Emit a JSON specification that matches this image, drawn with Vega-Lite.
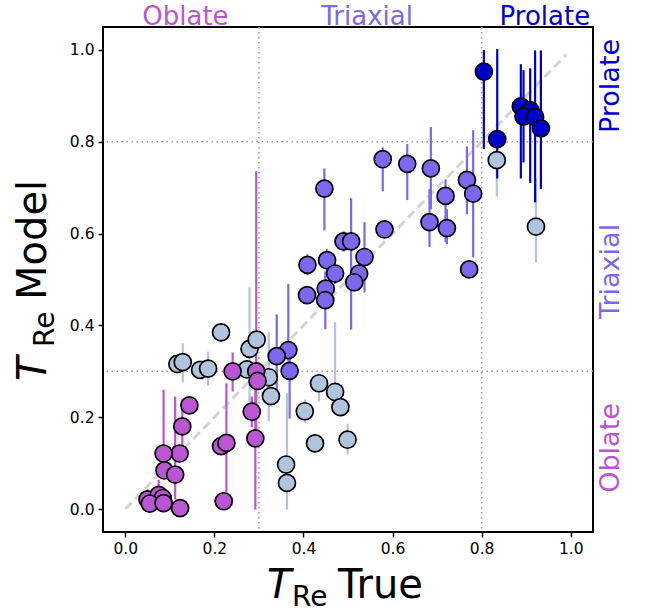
{
  "$schema": "https://vega.github.io/schema/vega-lite/v6.json",
  "width": 490,
  "height": 505,
  "autosize": {"type": "none"},
  "padding": {"left": 103, "top": 27, "right": 55, "bottom": 80},
  "config": {"view": {"stroke": "black", "strokeWidth": 2}, "font": "DejaVu Sans",
    "axis": {"title": null, "domain": false, "grid": false, "tickSize": 5, "tickWidth": 1.5, "tickColor": "black", "labelFontSize": 15.5, "labelColor": "black", "labelPadding": 4, "labelFont": "DejaVu Sans"}},
  "datasets": {
    "pts": [
      {"x": 0.215, "y": 0.385, "lo": 0.375, "hi": 0.395, "c": "Mis"},
      {"x": 0.117, "y": 0.316, "lo": 0.306, "hi": 0.326, "c": "Mis"},
      {"x": 0.129, "y": 0.320, "lo": 0.276, "hi": 0.361, "c": "Mis"},
      {"x": 0.168, "y": 0.303, "lo": 0.293, "hi": 0.313, "c": "Mis"},
      {"x": 0.186, "y": 0.306, "lo": 0.269, "hi": 0.343, "c": "Mis"},
      {"x": 0.279, "y": 0.349, "lo": 0.232, "hi": 0.483, "c": "Mis"},
      {"x": 0.295, "y": 0.369, "lo": 0.359, "hi": 0.379, "c": "Mis"},
      {"x": 0.273, "y": 0.304, "lo": 0.294, "hi": 0.314, "c": "Mis"},
      {"x": 0.322, "y": 0.287, "lo": 0.191, "hi": 0.385, "c": "Mis"},
      {"x": 0.327, "y": 0.246, "lo": 0.236, "hi": 0.256, "c": "Mis"},
      {"x": 0.361, "y": 0.097, "lo": 0.087, "hi": 0.107, "c": "Mis"},
      {"x": 0.363, "y": 0.057, "lo": -0.001, "hi": 0.252, "c": "Mis"},
      {"x": 0.435, "y": 0.274, "lo": 0.234, "hi": 0.293, "c": "Mis"},
      {"x": 0.471, "y": 0.255, "lo": 0.239, "hi": 0.407, "c": "Mis"},
      {"x": 0.483, "y": 0.222, "lo": 0.212, "hi": 0.232, "c": "Mis"},
      {"x": 0.403, "y": 0.213, "lo": 0.188, "hi": 0.239, "c": "Mis"},
      {"x": 0.499, "y": 0.151, "lo": 0.119, "hi": 0.186, "c": "Mis"},
      {"x": 0.426, "y": 0.143, "lo": 0.133, "hi": 0.153, "c": "Mis"},
      {"x": 0.834, "y": 0.760, "lo": 0.681, "hi": 0.784, "c": "Mis"},
      {"x": 0.922, "y": 0.615, "lo": 0.537, "hi": 0.720, "c": "Mis"},
      {"x": 0.241, "y": 0.300, "lo": 0.256, "hi": 0.341, "c": "Oblate"},
      {"x": 0.294, "y": 0.300, "lo": 0.173, "hi": 0.736, "c": "Oblate"},
      {"x": 0.297, "y": 0.279, "lo": 0.260, "hi": 0.300, "c": "Oblate"},
      {"x": 0.284, "y": 0.212, "lo": 0.178, "hi": 0.245, "c": "Oblate"},
      {"x": 0.292, "y": 0.154, "lo": -0.001, "hi": 0.282, "c": "Oblate"},
      {"x": 0.144, "y": 0.226, "lo": 0.216, "hi": 0.236, "c": "Oblate"},
      {"x": 0.128, "y": 0.180, "lo": 0.130, "hi": 0.239, "c": "Oblate"},
      {"x": 0.122, "y": 0.121, "lo": 0.111, "hi": 0.131, "c": "Oblate"},
      {"x": 0.086, "y": 0.121, "lo": 0.108, "hi": 0.260, "c": "Oblate"},
      {"x": 0.088, "y": 0.084, "lo": 0.074, "hi": 0.094, "c": "Oblate"},
      {"x": 0.112, "y": 0.075, "lo": 0.021, "hi": 0.245, "c": "Oblate"},
      {"x": 0.215, "y": 0.137, "lo": 0.127, "hi": 0.147, "c": "Oblate"},
      {"x": 0.227, "y": 0.144, "lo": 0.036, "hi": 0.274, "c": "Oblate"},
      {"x": 0.221, "y": 0.017, "lo": 0.007, "hi": 0.027, "c": "Oblate"},
      {"x": 0.123, "y": 0.002, "lo": -0.008, "hi": 0.012, "c": "Oblate"},
      {"x": 0.050, "y": 0.021, "lo": 0.011, "hi": 0.043, "c": "Oblate"},
      {"x": 0.075, "y": 0.031, "lo": 0.010, "hi": 0.064, "c": "Oblate"},
      {"x": 0.084, "y": 0.024, "lo": 0.014, "hi": 0.034, "c": "Oblate"},
      {"x": 0.055, "y": 0.012, "lo": 0.002, "hi": 0.022, "c": "Oblate"},
      {"x": 0.086, "y": 0.013, "lo": 0.003, "hi": 0.023, "c": "Oblate"},
      {"x": 0.578, "y": 0.762, "lo": 0.692, "hi": 0.788, "c": "Triaxial"},
      {"x": 0.633, "y": 0.752, "lo": 0.673, "hi": 0.795, "c": "Triaxial"},
      {"x": 0.686, "y": 0.742, "lo": 0.653, "hi": 0.832, "c": "Triaxial"},
      {"x": 0.719, "y": 0.682, "lo": 0.581, "hi": 0.718, "c": "Triaxial"},
      {"x": 0.683, "y": 0.625, "lo": 0.571, "hi": 0.697, "c": "Triaxial"},
      {"x": 0.722, "y": 0.612, "lo": 0.577, "hi": 0.653, "c": "Triaxial"},
      {"x": 0.767, "y": 0.717, "lo": 0.642, "hi": 0.790, "c": "Triaxial"},
      {"x": 0.781, "y": 0.687, "lo": 0.548, "hi": 0.825, "c": "Triaxial"},
      {"x": 0.772, "y": 0.522, "lo": 0.505, "hi": 0.540, "c": "Triaxial"},
      {"x": 0.447, "y": 0.698, "lo": 0.607, "hi": 0.742, "c": "Triaxial"},
      {"x": 0.582, "y": 0.609, "lo": 0.592, "hi": 0.627, "c": "Triaxial"},
      {"x": 0.490, "y": 0.583, "lo": 0.561, "hi": 0.605, "c": "Triaxial"},
      {"x": 0.507, "y": 0.583, "lo": 0.391, "hi": 0.677, "c": "Triaxial"},
      {"x": 0.537, "y": 0.549, "lo": 0.472, "hi": 0.625, "c": "Triaxial"},
      {"x": 0.525, "y": 0.513, "lo": 0.490, "hi": 0.534, "c": "Triaxial"},
      {"x": 0.514, "y": 0.494, "lo": 0.474, "hi": 0.511, "c": "Triaxial"},
      {"x": 0.409, "y": 0.532, "lo": 0.509, "hi": 0.555, "c": "Triaxial"},
      {"x": 0.453, "y": 0.542, "lo": 0.520, "hi": 0.566, "c": "Triaxial"},
      {"x": 0.471, "y": 0.513, "lo": 0.490, "hi": 0.534, "c": "Triaxial"},
      {"x": 0.450, "y": 0.480, "lo": 0.470, "hi": 0.490, "c": "Triaxial"},
      {"x": 0.408, "y": 0.466, "lo": 0.456, "hi": 0.476, "c": "Triaxial"},
      {"x": 0.449, "y": 0.455, "lo": 0.392, "hi": 0.518, "c": "Triaxial"},
      {"x": 0.366, "y": 0.346, "lo": 0.300, "hi": 0.490, "c": "Triaxial"},
      {"x": 0.340, "y": 0.333, "lo": 0.250, "hi": 0.424, "c": "Triaxial"},
      {"x": 0.369, "y": 0.301, "lo": 0.197, "hi": 0.348, "c": "Triaxial"},
      {"x": 0.805, "y": 0.953, "lo": 0.784, "hi": 1.000, "c": "Prolate"},
      {"x": 0.835, "y": 0.806, "lo": 0.720, "hi": 1.002, "c": "Prolate"},
      {"x": 0.888, "y": 0.877, "lo": 0.720, "hi": 0.969, "c": "Prolate"},
      {"x": 0.909, "y": 0.869, "lo": 0.710, "hi": 0.960, "c": "Prolate"},
      {"x": 0.894, "y": 0.855, "lo": 0.755, "hi": 0.956, "c": "Prolate"},
      {"x": 0.920, "y": 0.854, "lo": 0.668, "hi": 0.999, "c": "Prolate"},
      {"x": 0.933, "y": 0.829, "lo": 0.697, "hi": 0.999, "c": "Prolate"}
    ]
  },
  "layer": [
    {
      "data": {"values": [{"v": 0.3}, {"v": 0.8}]},
      "mark": {"type": "rule", "color": "#999999", "strokeWidth": 1.5, "strokeDash": [1.5, 3.5]},
      "encoding": {
        "x": {"field": "v", "type": "quantitative", "scale": {"domain": [-0.05, 1.05], "nice": false, "zero": false}, "axis": {"values": [0, 0.2, 0.4, 0.6, 0.8, 1.0], "format": ".1f"}}
      }
    },
    {
      "data": {"values": [{"v": 0.3}, {"v": 0.8}]},
      "mark": {"type": "rule", "color": "#999999", "strokeWidth": 1.5, "strokeDash": [1.5, 3.5]},
      "encoding": {
        "y": {"field": "v", "type": "quantitative", "scale": {"domain": [-0.05, 1.05], "nice": false, "zero": false}, "axis": {"values": [0, 0.2, 0.4, 0.6, 0.8, 1.0], "format": ".1f"}}
      }
    },
    {
      "data": {"values": [{"d": 0}, {"d": 0.99}]},
      "mark": {"type": "line", "color": "#d3d3d3", "strokeWidth": 3, "strokeDash": [9, 5]},
      "encoding": {
        "x": {"field": "d", "type": "quantitative", "scale": {"domain": [-0.05, 1.05], "nice": false, "zero": false}, "axis": {"values": [0, 0.2, 0.4, 0.6, 0.8, 1.0], "format": ".1f"}},
        "y": {"field": "d", "type": "quantitative", "scale": {"domain": [-0.05, 1.05], "nice": false, "zero": false}, "axis": {"values": [0, 0.2, 0.4, 0.6, 0.8, 1.0], "format": ".1f"}}
      }
    },
    {
      "data": {"name": "pts"},
      "mark": {"type": "rule", "strokeWidth": 2.2},
      "encoding": {
        "x": {"field": "x", "type": "quantitative", "scale": {"domain": [-0.05, 1.05], "nice": false, "zero": false}, "axis": {"values": [0, 0.2, 0.4, 0.6, 0.8, 1.0], "format": ".1f"}},
        "y": {"field": "lo", "type": "quantitative", "scale": {"domain": [-0.05, 1.05], "nice": false, "zero": false}, "axis": {"values": [0, 0.2, 0.4, 0.6, 0.8, 1.0], "format": ".1f"}},
        "y2": {"field": "hi"},
        "color": {"field": "c", "type": "nominal", "scale": {"domain": ["Oblate", "Triaxial", "Prolate", "Mis"], "range": ["#BA55D3", "#7B68EE", "#0000CD", "#B0C4DE"]}, "legend": null}
      }
    },
    {
      "data": {"name": "pts"},
      "mark": {"type": "circle", "size": 290, "stroke": "black", "strokeWidth": 1.7, "opacity": 1},
      "encoding": {
        "x": {"field": "x", "type": "quantitative", "scale": {"domain": [-0.05, 1.05], "nice": false, "zero": false}, "axis": {"values": [0, 0.2, 0.4, 0.6, 0.8, 1.0], "format": ".1f"}},
        "y": {"field": "y", "type": "quantitative", "scale": {"domain": [-0.05, 1.05], "nice": false, "zero": false}, "axis": {"values": [0, 0.2, 0.4, 0.6, 0.8, 1.0], "format": ".1f"}},
        "color": {"field": "c", "type": "nominal", "scale": {"domain": ["Oblate", "Triaxial", "Prolate", "Mis"], "range": ["#BA55D3", "#7B68EE", "#0000CD", "#B0C4DE"]}, "legend": null}
      }
    },
    {
      "data": {"values": [
        {"t": "Oblate", "x": 0.135, "y": 1.0554, "c": "Oblate"},
        {"t": "Triaxial", "x": 0.543, "y": 1.0554, "c": "Triaxial"},
        {"t": "Prolate", "x": 0.942, "y": 1.0554, "c": "Prolate"}
      ]},
      "mark": {"type": "text", "fontSize": 26, "align": "center", "baseline": "alphabetic", "font": "DejaVu Sans"},
      "encoding": {
        "x": {"field": "x", "type": "quantitative", "scale": {"domain": [-0.05, 1.05], "nice": false, "zero": false}, "axis": {"values": [0, 0.2, 0.4, 0.6, 0.8, 1.0], "format": ".1f"}},
        "y": {"field": "y", "type": "quantitative", "scale": {"domain": [-0.05, 1.05], "nice": false, "zero": false}, "axis": {"values": [0, 0.2, 0.4, 0.6, 0.8, 1.0], "format": ".1f"}},
        "text": {"field": "t"},
        "color": {"field": "c", "type": "nominal", "scale": {"domain": ["Oblate", "Triaxial", "Prolate", "Mis"], "range": ["#BA55D3", "#7B68EE", "#0000CD", "#B0C4DE"]}, "legend": null}
      }
    },
    {
      "data": {"values": [
        {"t": "Oblate", "x": 1.108, "y": 0.133, "c": "Oblate"},
        {"t": "Triaxial", "x": 1.108, "y": 0.5175, "c": "Triaxial"},
        {"t": "Prolate", "x": 1.108, "y": 0.9216, "c": "Prolate"}
      ]},
      "mark": {"type": "text", "fontSize": 27, "align": "center", "baseline": "alphabetic", "angle": 270, "font": "DejaVu Sans"},
      "encoding": {
        "x": {"field": "x", "type": "quantitative", "scale": {"domain": [-0.05, 1.05], "nice": false, "zero": false}, "axis": {"values": [0, 0.2, 0.4, 0.6, 0.8, 1.0], "format": ".1f"}},
        "y": {"field": "y", "type": "quantitative", "scale": {"domain": [-0.05, 1.05], "nice": false, "zero": false}, "axis": {"values": [0, 0.2, 0.4, 0.6, 0.8, 1.0], "format": ".1f"}},
        "text": {"field": "t"},
        "color": {"field": "c", "type": "nominal", "scale": {"domain": ["Oblate", "Triaxial", "Prolate", "Mis"], "range": ["#BA55D3", "#7B68EE", "#0000CD", "#B0C4DE"]}, "legend": null}
      }
    },
    {
      "data": {"values": [{"t": "T", "x": 0.318, "y": -0.1937}]},
      "mark": {"type": "text", "fontSize": 40, "align": "left", "baseline": "alphabetic", "color": "black", "fontStyle": "italic", "font": "DejaVu Sans"},
      "encoding": {
        "x": {"field": "x", "type": "quantitative", "scale": {"domain": [-0.05, 1.05], "nice": false, "zero": false}, "axis": {"values": [0, 0.2, 0.4, 0.6, 0.8, 1.0], "format": ".1f"}},
        "y": {"field": "y", "type": "quantitative", "scale": {"domain": [-0.05, 1.05], "nice": false, "zero": false}, "axis": {"values": [0, 0.2, 0.4, 0.6, 0.8, 1.0], "format": ".1f"}},
        "text": {"field": "t"}
      }
    },
    {
      "data": {"values": [{"t": "True", "x": 0.4775, "y": -0.1937}]},
      "mark": {"type": "text", "fontSize": 40, "align": "left", "baseline": "alphabetic", "color": "black", "font": "DejaVu Sans"},
      "encoding": {
        "x": {"field": "x", "type": "quantitative", "scale": {"domain": [-0.05, 1.05], "nice": false, "zero": false}, "axis": {"values": [0, 0.2, 0.4, 0.6, 0.8, 1.0], "format": ".1f"}},
        "y": {"field": "y", "type": "quantitative", "scale": {"domain": [-0.05, 1.05], "nice": false, "zero": false}, "axis": {"values": [0, 0.2, 0.4, 0.6, 0.8, 1.0], "format": ".1f"}},
        "text": {"field": "t"}
      }
    },
    {
      "data": {"values": [{"t": "Re", "x": 0.3742, "y": -0.211}]},
      "mark": {"type": "text", "fontSize": 28, "align": "left", "baseline": "alphabetic", "color": "black", "font": "DejaVu Sans"},
      "encoding": {
        "x": {"field": "x", "type": "quantitative", "scale": {"domain": [-0.05, 1.05], "nice": false, "zero": false}, "axis": {"values": [0, 0.2, 0.4, 0.6, 0.8, 1.0], "format": ".1f"}},
        "y": {"field": "y", "type": "quantitative", "scale": {"domain": [-0.05, 1.05], "nice": false, "zero": false}, "axis": {"values": [0, 0.2, 0.4, 0.6, 0.8, 1.0], "format": ".1f"}},
        "text": {"field": "t"}
      }
    },
    {
      "data": {"values": [{"t": "T", "x": -0.178, "y": 0.279}]},
      "mark": {"type": "text", "fontSize": 40, "align": "left", "baseline": "alphabetic", "angle": 270, "color": "black", "fontStyle": "italic", "font": "DejaVu Sans"},
      "encoding": {
        "x": {"field": "x", "type": "quantitative", "scale": {"domain": [-0.05, 1.05], "nice": false, "zero": false}, "axis": {"values": [0, 0.2, 0.4, 0.6, 0.8, 1.0], "format": ".1f"}},
        "y": {"field": "y", "type": "quantitative", "scale": {"domain": [-0.05, 1.05], "nice": false, "zero": false}, "axis": {"values": [0, 0.2, 0.4, 0.6, 0.8, 1.0], "format": ".1f"}},
        "text": {"field": "t"}
      }
    },
    {
      "data": {"values": [{"t": "Model", "x": -0.178, "y": 0.4555}]},
      "mark": {"type": "text", "fontSize": 40, "align": "left", "baseline": "alphabetic", "angle": 270, "color": "black", "font": "DejaVu Sans"},
      "encoding": {
        "x": {"field": "x", "type": "quantitative", "scale": {"domain": [-0.05, 1.05], "nice": false, "zero": false}, "axis": {"values": [0, 0.2, 0.4, 0.6, 0.8, 1.0], "format": ".1f"}},
        "y": {"field": "y", "type": "quantitative", "scale": {"domain": [-0.05, 1.05], "nice": false, "zero": false}, "axis": {"values": [0, 0.2, 0.4, 0.6, 0.8, 1.0], "format": ".1f"}},
        "text": {"field": "t"}
      }
    },
    {
      "data": {"values": [{"t": "Re", "x": -0.160, "y": 0.353}]},
      "mark": {"type": "text", "fontSize": 28, "align": "left", "baseline": "alphabetic", "angle": 270, "color": "black", "font": "DejaVu Sans"},
      "encoding": {
        "x": {"field": "x", "type": "quantitative", "scale": {"domain": [-0.05, 1.05], "nice": false, "zero": false}, "axis": {"values": [0, 0.2, 0.4, 0.6, 0.8, 1.0], "format": ".1f"}},
        "y": {"field": "y", "type": "quantitative", "scale": {"domain": [-0.05, 1.05], "nice": false, "zero": false}, "axis": {"values": [0, 0.2, 0.4, 0.6, 0.8, 1.0], "format": ".1f"}},
        "text": {"field": "t"}
      }
    }
  ]
}
